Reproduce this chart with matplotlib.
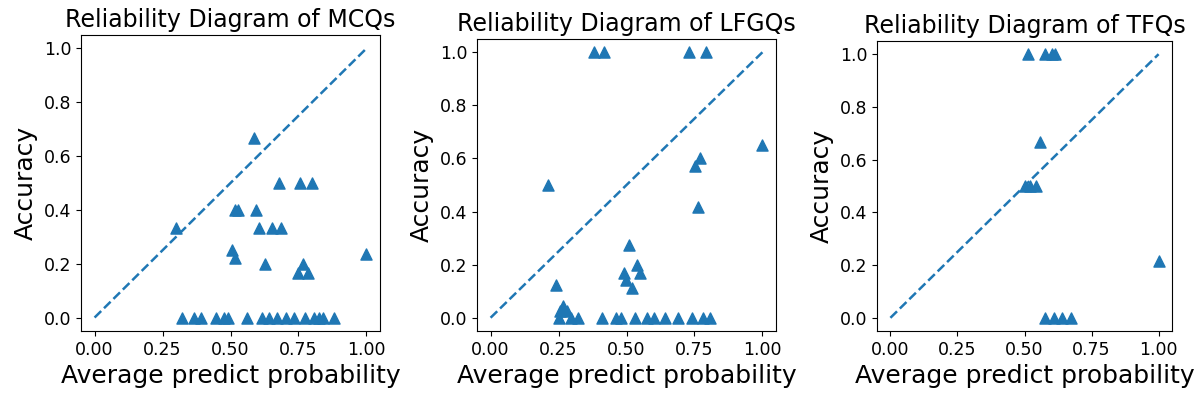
import matplotlib.pyplot as plt

# MCQs
mcq_prob = [0.30, 0.585, 0.677, 0.754, 0.799, 0.515, 0.527, 0.593, 0.606, 0.652,
            0.686, 0.504, 0.515, 0.628, 1.00, 0.768, 0.75, 0.786,
            0.323, 0.366, 0.391, 0.448, 0.477, 0.491, 0.560, 0.615, 0.643,
            0.670, 0.704, 0.735, 0.775, 0.806, 0.827, 0.842, 0.880]
mcq_acc = [0.333, 0.667, 0.5, 0.5, 0.5, 0.4, 0.4, 0.4, 0.333, 0.333,
           0.333, 0.25, 0.222, 0.2, 0.236, 0.2, 0.167, 0.167,
           0, 0, 0, 0, 0, 0, 0, 0, 0,
           0, 0, 0, 0, 0, 0, 0, 0]

# LFGQs
lfgq_prob = [0.382, 0.419, 0.731, 0.793, 1.00, 0.772, 0.751, 0.763, 0.211, 0.509,
             0.540, 0.550, 0.489, 0.498, 0.520, 0.239, 0.268, 0.255, 0.280,
             0.252, 0.295, 0.320, 0.410, 0.462, 0.481, 0.530, 0.577, 0.602,
             0.642, 0.691, 0.741, 0.782, 0.809]
lfgq_acc = [1, 1, 1, 1, 0.651, 0.6, 0.571, 0.417, 0.5, 0.273,
            0.2, 0.167, 0.167, 0.143, 0.111, 0.125, 0.045, 0.025, 0.025,
            0, 0, 0, 0, 0, 0, 0, 0, 0,
            0, 0, 0, 0, 0]

# TFQs
tfq_prob = [0.513, 0.576, 0.601, 0.613, 0.556, 0.501, 0.522, 0.544, 1.00,
            0.578, 0.609, 0.638, 0.672]
tfq_acc = [1, 1, 1, 1, 0.667, 0.5, 0.5, 0.5, 0.217,
           0, 0, 0, 0]

panels = [
    ("MCQs", mcq_prob, mcq_acc),
    ("LFGQs", lfgq_prob, lfgq_acc),
    ("TFQs", tfq_prob, tfq_acc),
]

W, H = 1201, 401
# axes boxes in pixels: left, top, right, bottom
boxes = [(81, 35, 380, 331), (477, 39, 776, 331), (877, 41, 1172, 331)]

fig = plt.figure(figsize=(W / 100, H / 100), dpi=100)
for (l, t, r, b), (name, prob, acc) in zip(boxes, panels):
    ax = fig.add_axes([l / W, (H - b) / H, (r - l) / W, (b - t) / H])
    ax.plot([0, 1], [0, 1], linestyle="--", color="C0", linewidth=1.8)
    ax.scatter(prob, acc, marker="^", s=64, color="C0")
    ax.set_title(f"Reliability Diagram of {name}", fontsize=17)
    ax.set_xlabel("Average predict probability", fontsize=18)
    ax.set_ylabel("Accuracy", fontsize=18)
    ax.set_xticks([0, 0.25, 0.5, 0.75, 1.0])
    ax.set_yticks([0, 0.2, 0.4, 0.6, 0.8, 1.0])
    ax.tick_params(labelsize=12.5)

plt.savefig("out.png")
